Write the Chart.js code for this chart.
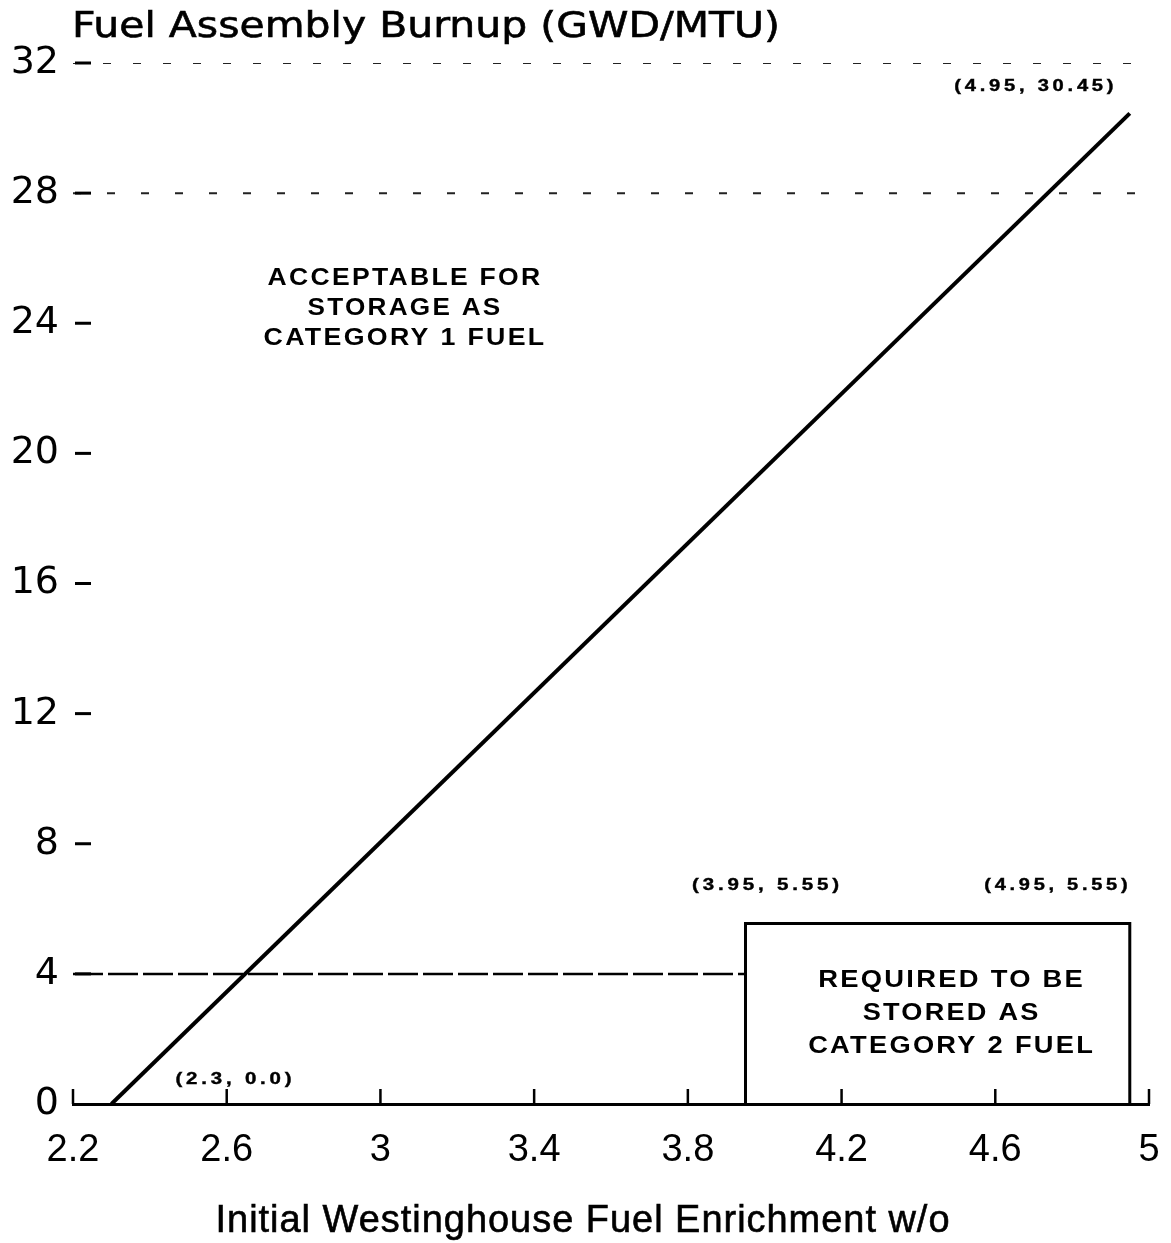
<!DOCTYPE html>
<html>
<head>
<meta charset="utf-8">
<script src="https://cdn.jsdelivr.net/npm/chart.js@4.4.1/dist/chart.umd.min.js"></script>
<style>
  html, body { margin: 0; padding: 0; background: #fff; }
  #wrap { width: 1171px; height: 1243px; position: relative; }
</style>
</head>
<body>
<div id="wrap"><canvas id="chart"></canvas></div>
<script>
// limit line: enrichment (w/o) vs burnup (GWD/MTU)
const enrichment = [2.3, 4.95];
const burnup = [0.0, 30.45];

// category 2 box corners
const boxX = [3.95, 3.95, 4.95, 4.95];
const boxY = [0, 5.55, 5.55, 0];

// dashed reference lines
const refX = [2.2, 3.95];
const refY = [4, 4];
const gridX = [2.2, 5];
const grid32 = [32, 32];
const grid28 = [28, 28];

const xTicks = [2.2, 2.6, 3, 3.4, 3.8, 4.2, 4.6, 5];
const yTicks = [0, 4, 8, 12, 16, 20, 24, 28, 32];

const pointLabels = ['(2.3, 0.0)', '(3.95, 5.55)', '(4.95, 5.55)', '(4.95, 30.45)'];
const pointLabelX = [2.3, 3.95, 4.95, 4.95];
const pointLabelY = [0.0, 5.55, 5.55, 30.45];

const cat1Text = ['ACCEPTABLE FOR', 'STORAGE AS', 'CATEGORY 1 FUEL'];
const cat2Text = ['REQUIRED TO BE', 'STORED AS', 'CATEGORY 2 FUEL'];

function pts(xs, ys) {
    return xs.map((x, i) => ({ x: x, y: ys[i] }));
}

// draw text squeezed/stretched to a given width
function drawFit(ctx, text, cx, cy, w, font, spacing, stroke) {
    ctx.save();
    ctx.font = font;
    ctx.letterSpacing = (spacing || 0) + 'px';
    const m = ctx.measureText(text).width;
    ctx.translate(cx, cy);
    ctx.scale(w / m, 1);
    ctx.textAlign = 'center';
    ctx.textBaseline = 'middle';
    ctx.fillStyle = '#000';
    ctx.fillText(text, 0, 0);
    if (stroke) {
        ctx.strokeStyle = '#000';
        ctx.lineWidth = stroke;
        ctx.strokeText(text, 0, 0);
    }
    ctx.restore();
}

const decorations = {
    id: 'decorations',
    afterDraw(chart) {
        const ctx = chart.ctx;
        const xs = chart.scales.x;
        const ys = chart.scales.y;
        const area = chart.chartArea;
        ctx.save();
        ctx.strokeStyle = '#000';
        ctx.lineCap = 'butt';

        // y tick marks (short dashes inside the plot)
        ctx.lineWidth = 3;
        for (const v of yTicks) {
            if (v === 0) continue;
            const py = ys.getPixelForValue(v);
            ctx.beginPath();
            ctx.moveTo(area.left + 2, py);
            ctx.lineTo(area.left + 18, py);
            ctx.stroke();
        }
        // x tick marks (upward)
        ctx.lineWidth = 2.5;
        for (const v of xTicks) {
            const px = xs.getPixelForValue(v);
            ctx.beginPath();
            ctx.moveTo(px, area.bottom);
            ctx.lineTo(px, area.bottom - 15);
            ctx.stroke();
        }

        // top title and x title
        drawFit(ctx, 'Fuel Assembly Burnup (GWD/MTU)', 426, 28, 708, '35px "DejaVu Sans"', 0, 0.6);
        drawFit(ctx, 'Initial Westinghouse Fuel Enrichment w/o', 583, 1222, 735, '38px "Liberation Sans"', 1, 0.6);

        // point labels
        const offs = [[124, -24, 120], [22, -38, 151], [-72, -38, 147], [-94, -27, 163]];
        pointLabels.forEach((t, i) => {
            const px = xs.getPixelForValue(pointLabelX[i]) + offs[i][0];
            const py = ys.getPixelForValue(pointLabelY[i]) + offs[i][1];
            drawFit(ctx, t, px, py, offs[i][2], 'bold 16px "Liberation Sans"', 3, 0.4);
        });

        // region labels
        const c1x = xs.getPixelForValue(3.064);
        const c1y = ys.getPixelForValue(24.45);
        const w1 = [275, 195, 283];
        cat1Text.forEach((t, i) => {
            drawFit(ctx, t, c1x, c1y + (i - 1) * 30, w1[i], 'bold 23px "Liberation Sans"', 2);
        });
        const c2x = (xs.getPixelForValue(boxX[0]) + xs.getPixelForValue(boxX[2])) / 2 + 14;
        const c2y = (ys.getPixelForValue(0) + ys.getPixelForValue(boxY[1])) / 2;
        const w2 = [267, 178, 287];
        cat2Text.forEach((t, i) => {
            drawFit(ctx, t, c2x, c2y + (i - 1) * 33, w2[i], 'bold 24px "Liberation Sans"', 2);
        });
        ctx.restore();
    }
};

const ctx = document.getElementById('chart');
new Chart(ctx, {
    type: 'scatter',
    data: {
        datasets: [
            {
                label: 'limit',
                data: pts(enrichment, burnup),
                showLine: true,
                borderColor: '#000',
                borderWidth: 4,
                pointRadius: 0
            },
            {
                label: 'category 2',
                data: pts(boxX, boxY),
                showLine: true,
                borderColor: '#000',
                borderWidth: 3,
                pointRadius: 0
            },
            {
                label: 'ref 4',
                data: pts(refX, refY),
                showLine: true,
                borderColor: '#000',
                borderWidth: 2.5,
                borderDash: [30, 5],
                pointRadius: 0
            },
            {
                label: 'grid 32',
                data: pts(gridX, grid32),
                showLine: true,
                borderColor: '#222',
                borderWidth: 2,
                borderDash: [8, 22],
                pointRadius: 0
            },
            {
                label: 'grid 28',
                data: pts(gridX, grid28),
                showLine: true,
                borderColor: '#222',
                borderWidth: 2,
                borderDash: [8, 26],
                pointRadius: 0
            }
        ]
    },
    options: {
        responsive: true,
        maintainAspectRatio: false,
        animation: false,
        layout: { padding: { top: 63, right: 22, left: 0, bottom: 0 } },
        plugins: {
            legend: { display: false },
            tooltip: { enabled: false }
        },
        scales: {
            x: {
                type: 'linear',
                min: 2.2,
                max: 5,
                afterBuildTicks: (s) => { s.ticks = xTicks.map(v => ({ value: v })); },
                afterFit: (s) => { s.height = 139; s.paddingRight = 0; s.paddingLeft = 0; },
                grid: { display: false, drawTicks: false },
                border: { display: true, color: '#000', width: 3 },
                ticks: {
                    color: '#000',
                    padding: 24,
                    maxRotation: 0,
                    autoSkip: false,
                    font: { family: '"Liberation Sans", Arial, sans-serif', size: 38 },
                    callback: (v) => String(v)
                },
                title: { display: false }
            },
            y: {
                type: 'linear',
                min: 0,
                max: 32,
                afterBuildTicks: (s) => { s.ticks = yTicks.map(v => ({ value: v })); },
                afterFit: (s) => { s.width = 73; },
                grid: { display: false, drawTicks: false },
                border: { display: false },
                ticks: {
                    color: '#000',
                    padding: 14,
                    autoSkip: false,
                    font: { family: '"DejaVu Sans", sans-serif', size: 38 }
                }
            }
        }
    },
    plugins: [decorations]
});
</script>
</body>
</html>
